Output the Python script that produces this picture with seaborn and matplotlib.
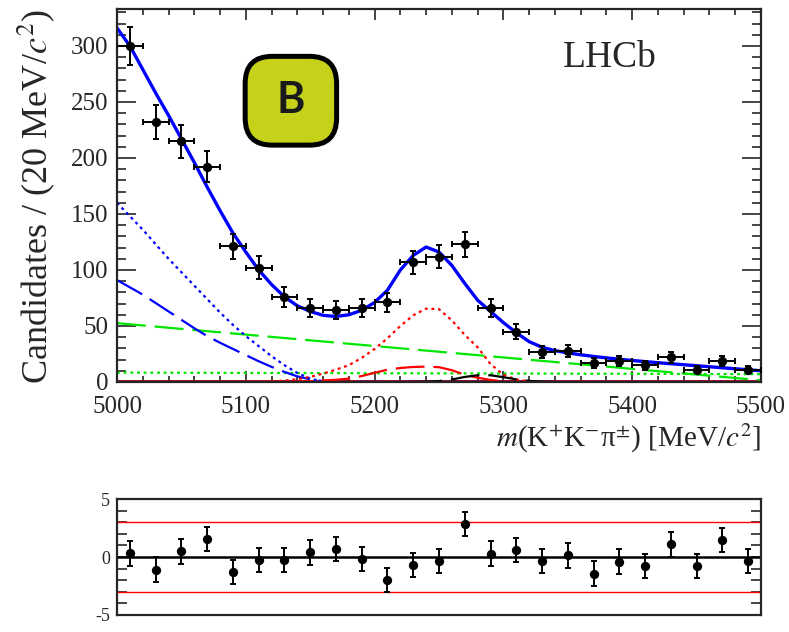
import matplotlib
matplotlib.use("Agg")
import matplotlib.pyplot as plt
from matplotlib.patches import FancyBboxPatch
from matplotlib.ticker import MultipleLocator, FixedLocator
import seaborn as sns

# binned data (20 MeV/c^2 bins)
bin_centres = [5010, 5030, 5050, 5070, 5090, 5110, 5130, 5150, 5170, 5190,
               5210, 5230, 5250, 5270, 5290, 5310, 5330, 5350, 5370, 5390,
               5410, 5430, 5450, 5470, 5490]
counts = [300, 232, 215, 192, 121, 102, 76, 66, 64, 66,
          71, 107, 112, 123, 66, 45, 27, 28, 17, 19,
          15, 22, 11, 19, 11]
count_errors = [17.3, 15.2, 14.7, 13.9, 11.0, 10.1, 8.7, 8.1, 8.0, 8.1,
                8.4, 10.3, 10.6, 11.1, 8.1, 6.7, 5.2, 5.3, 4.1, 4.4,
                3.9, 4.7, 3.3, 4.4, 3.3]
bin_half_width = 10

pulls = [0.31, -1.09, 0.49, 1.57, -1.31, -0.23, -0.23, 0.40, 0.69, -0.17,
         -2.0, -0.69, -0.37, 2.83, 0.29, 0.63, -0.34, 0.14, -1.43, -0.40,
         -0.80, 1.09, -0.80, 1.46, -0.34]
pull_errors = [1.05] * len(pulls)

# fit curves
curve_mass = list(range(5000, 5501, 10))
total_fit = [316, 300, 279, 258, 238, 217, 196, 174, 153, 133,
             116, 100, 87, 76, 68, 63, 59.5, 58.5, 60, 64,
             71, 82, 100, 113, 120.5, 116, 104, 88, 73, 63,
             53, 44, 36, 31, 28, 26, 24.3, 22.8, 21.5, 20.3,
             19.2, 18.2, 17.2, 16.3, 15.4, 14.5, 13.6, 12.7, 11.8, 10.9,
             10]

comb_mass = [5000, 5100, 5200, 5300, 5400, 5500]
comb_bkg = [52.5, 42.3, 32.1, 21.9, 11.7, 1.5]
flat_bkg = [8.4, 8.1, 7.8, 7.6, 7.3, 7.0]

partreco_mass = [5000, 5010, 5020, 5030, 5040, 5050, 5060, 5070, 5080, 5090,
                 5100, 5110, 5120, 5130, 5140, 5150, 5160, 5170, 5500]
partreco_dotted = [160, 148, 136, 123, 110, 98, 86, 74, 62, 51,
                   41, 32, 23, 15, 8, 3, 0.3, 0, 0]
partreco_dashed = [91, 84.5, 78, 70.5, 63, 55.5, 48, 41, 35, 29.5,
                   24, 18.5, 13.5, 9, 5, 2.3, 0.7, 0, 0]

peak_mass = [5100, 5110, 5120, 5130, 5140, 5150, 5160, 5170, 5180, 5190,
             5200, 5210, 5220, 5230, 5240, 5250, 5260, 5270, 5280, 5290,
             5300, 5310, 5320, 5330, 5500]
peak_dotted = [0, 0.2, 0.5, 1.2, 2.5, 4.5, 7.5, 11, 15, 21.5,
               29.5, 39, 50, 59.5, 65.5, 65, 55, 42, 31, 16,
               6.5, 2.2, 0.6, 0, 0]
peak_dashed = [0, 0, 0, 0, 0.3, 0.7, 1.3, 2, 3, 5.3,
               8.2, 11, 12.5, 13.4, 13.7, 13.2, 10.5, 6.5, 3.8, 1.8,
               0.6, 0.1, 0, 0, 0]

refl_mass = [5230, 5240, 5250, 5260, 5270, 5280, 5290, 5300, 5310, 5320, 5330, 5340]
refl = [0, 0.2, 0.8, 2.2, 4.5, 6, 6, 4.3, 2.3, 1, 0.3, 0]

base_mass = [5000, 5500]
base_bkg = [0.5, 0.5]

sns.set_style("ticks")
plt.rcParams["font.family"] = ["Liberation Serif", "DejaVu Serif"]
plt.rcParams["mathtext.fontset"] = "stix"
plt.rcParams["axes.unicode_minus"] = False

fig = plt.figure(figsize=(7.89, 6.32), dpi=100)
ax = fig.add_axes([0.1483, 0.3956, 0.8162, 0.5902])
pax = fig.add_axes([0.1483, 0.0269, 0.8162, 0.1835])

long_dash = (0, (13, 4))
dots = (0, (1.3, 1.7))

sns.lineplot(x=base_mass, y=base_bkg, ax=ax, color="#990000", linewidth=2)
sns.lineplot(x=comb_mass, y=flat_bkg, ax=ax, color="#00e600", linewidth=1.6, linestyle=dots)
sns.lineplot(x=comb_mass, y=comb_bkg, ax=ax, color="#00e600", linewidth=1.6, linestyle=long_dash)
sns.lineplot(x=partreco_mass, y=partreco_dotted, ax=ax, color="#0000ff", linewidth=1.6, linestyle=dots)
sns.lineplot(x=partreco_mass, y=partreco_dashed, ax=ax, color="#0000ff", linewidth=1.6, linestyle=long_dash)
sns.lineplot(x=peak_mass, y=peak_dotted, ax=ax, color="#ff0000", linewidth=1.6, linestyle=dots)
sns.lineplot(x=peak_mass, y=peak_dashed, ax=ax, color="#ff0000", linewidth=1.6, linestyle=long_dash)
sns.lineplot(x=refl_mass, y=refl, ax=ax, color="black", linewidth=1.6, linestyle=long_dash)
sns.lineplot(x=curve_mass, y=total_fit, ax=ax, color="#0000ff", linewidth=2.4)

ax.errorbar(bin_centres, counts, xerr=bin_half_width, yerr=count_errors, fmt="none",
            ecolor="black", elinewidth=1.4, capsize=2, capthick=1.4, zorder=5)
sns.scatterplot(x=bin_centres, y=counts, ax=ax, color="black", s=45, linewidth=0, zorder=6)

ax.set_xlim(5000, 5500)
ax.set_ylim(0, 333)
ax.xaxis.set_major_locator(MultipleLocator(100))
ax.xaxis.set_minor_locator(MultipleLocator(20))
ax.yaxis.set_major_locator(MultipleLocator(50))
ax.yaxis.set_minor_locator(MultipleLocator(10))
ax.tick_params(axis="both", which="both", direction="in", top=True, right=True,
               labelsize=18, width=1.2, pad=6)
ax.tick_params(axis="x", which="major", length=8, pad=10)
ax.tick_params(axis="x", which="minor", length=4)
ax.tick_params(axis="y", which="major", length=14)
ax.tick_params(axis="y", which="minor", length=6.5)
for s in ax.spines.values():
    s.set_linewidth(1.6)
ax.set_xlabel(r"$m$(K$^{+}$K$^{-}$π$^{\pm}$) [MeV/$c^{2}$]", fontsize=21, loc="right", labelpad=3)
ax.set_ylabel(r"Candidates / (20 MeV/$c^{2}$)", fontsize=26, loc="top", labelpad=10)

ax.text(0.766, 0.87, "LHCb", transform=ax.transAxes, fontsize=27, ha="center", va="center")

# badge
aspect = (0.8162 * 789) / (0.5902 * 632)
badge = FancyBboxPatch((0.199, 0.635), 0.142, 0.238, transform=ax.transAxes,
                       boxstyle="round,pad=0,rounding_size=0.042", mutation_aspect=aspect,
                       facecolor="#c6d21a", edgecolor="black", linewidth=3.6, zorder=7)
ax.add_patch(badge)
ax.text(0.270, 0.755, "B", transform=ax.transAxes, fontsize=31, family="Lato",
        fontweight="bold", color="#1a1a1a", ha="center", va="center", zorder=8)

# pull plot
pax.axhline(3, color="#ff0000", linewidth=1)
pax.axhline(-3, color="#ff0000", linewidth=1)
pax.axhline(0, color="black", linewidth=1.8)
pax.errorbar(bin_centres, pulls, yerr=pull_errors, fmt="none", ecolor="black",
             elinewidth=1.4, capsize=2, capthick=1.4, zorder=5)
sns.scatterplot(x=bin_centres, y=pulls, ax=pax, color="black", s=45, linewidth=0, zorder=6)
pax.set_xlim(5000, 5500)
pax.set_ylim(-5, 5)
pax.yaxis.set_major_locator(FixedLocator([-5, 0, 5]))
pax.yaxis.set_minor_locator(MultipleLocator(1))
pax.tick_params(axis="y", which="both", direction="in", left=True, right=True,
                length=7.5, width=1.2, labelsize=13, pad=5)
pax.tick_params(axis="x", which="both", bottom=False, top=False, labelbottom=False)
for s in pax.spines.values():
    s.set_linewidth(1.6)
pax.set_xlabel("")
pax.set_ylabel("")

fig.savefig("out.png", dpi=100)
